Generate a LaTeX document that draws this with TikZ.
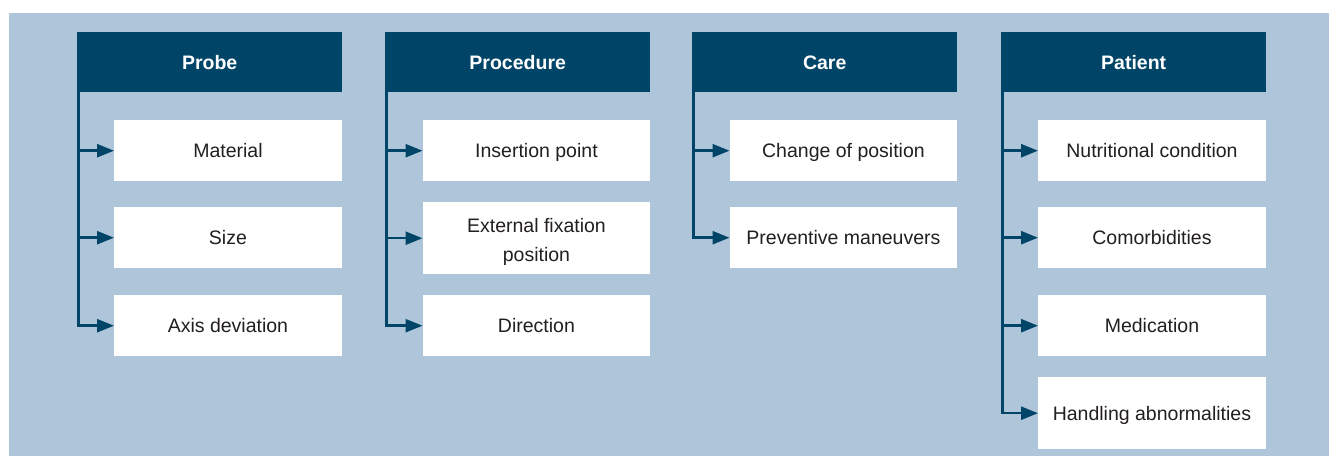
\documentclass[tikz,border=0pt]{standalone}
\usepackage{fontspec}
\setmainfont{Liberation Sans}
\usetikzlibrary{arrows.meta}
\definecolor{navy}{RGB}{0,68,104}
\definecolor{panel}{RGB}{175,198,218}
\definecolor{ink}{RGB}{35,31,32}
\begin{document}
\begin{tikzpicture}[x=1pt,y=-1pt,
  head/.style={fill=navy, text=white, font=\fontsize{19.5}{22}\selectfont\bfseries,
    minimum width=265pt, minimum height=60pt, inner sep=0pt, anchor=north west,
    text height=16pt, text depth=2pt},
  box/.style={fill=white, text=ink, font=\fontsize{19.5}{29}\selectfont,
    minimum width=227.5pt, minimum height=61pt, inner sep=0pt, anchor=north west, align=center},
  item/.style={box, text height=16pt, text depth=2pt},
  tall/.style={minimum height=72pt},
  link/.style={navy, line width=2.5pt, -{Triangle[length=17pt,width=13pt]}}]

\useasboundingbox (0,0) rectangle (1329,456);
\fill[panel] (9,13) rectangle (1329,456);

% column headers
\node[head] (pr) at (77,32)   {Probe};
\node[head] (pc) at (385,32)  {Procedure};
\node[head] (ca) at (692,32)  {Care};
\node[head] (pa) at (1001,32) {Patient};

% Probe
\node[item] (pr1) at (114,120) {Material};
\node[item] (pr2) at (114,207) {Size};
\node[item] (pr3) at (114,295) {Axis deviation};

% Procedure
\node[item] (pc1) at (422.5,120) {Insertion point};
\node[box,tall,text height=48pt,text depth=2pt] (pc2) at (422.5,202) {External fixation\\position};
\node[item] (pc3) at (422.5,295) {Direction};

% Care
\node[item] (ca1) at (729.5,120) {Change of position};
\node[item] (ca2) at (729.5,207) {Preventive maneuvers};

% Patient
\node[item] (pa1) at (1038,120) {Nutritional condition};
\node[item] (pa2) at (1038,207) {Comorbidities};
\node[item] (pa3) at (1038,295) {Medication};
\node[item,tall] (pa4) at (1038,377) {Handling abnormalities};

% branch connectors
\foreach \h/\c in {pr/pr1,pr/pr2,pr/pr3,pc/pc1,pc/pc2,pc/pc3,ca/ca1,ca/ca2,pa/pa1,pa/pa2,pa/pa3,pa/pa4}
  \draw[link] ([xshift=1.25pt]\h.south west) |- (\c.west);
\end{tikzpicture}
\end{document}
